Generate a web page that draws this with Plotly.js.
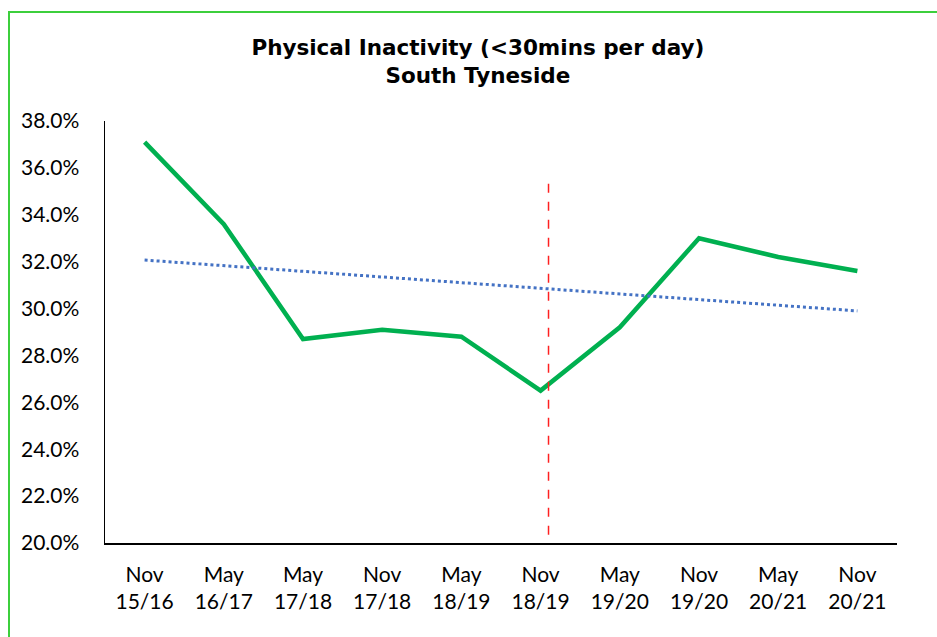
<!DOCTYPE html>
<html>
<head>
<meta charset="utf-8">
<script src="https://cdn.plot.ly/plotly-3.0.1.min.js"></script>
<style>
  html, body { margin: 0; padding: 0; background: #ffffff; }
  #wrap { position: relative; width: 937px; height: 637px; overflow: hidden; }
  #chart { position: absolute; left: 0; top: 0; width: 937px; height: 637px; }
  /* green frame around the chart (top and left edges visible) */
  #frame { position: absolute; left: 8px; top: 11px; width: 940px; height: 640px;
           border-top: 2px solid #3ccf3c; border-left: 2px solid #3ccf3c;
           pointer-events: none; }
</style>
</head>
<body>
<div id="wrap">
  <div id="chart"></div>
  <div id="frame"></div>
</div>
<script>
// Survey periods (two-line tick labels)
const periods = [
  "Nov<br>15/16", "May<br>16/17", "May<br>17/18", "Nov<br>17/18", "May<br>18/19",
  "Nov<br>18/19", "May<br>19/20", "Nov<br>19/20", "May<br>20/21", "Nov<br>20/21"
];
// Share of adults active for less than 30 minutes a day (%)
const inactivity = [37.1, 33.6, 28.7, 29.1, 28.8, 26.5, 29.2, 33.0, 32.2, 31.6];
// Linear trend: values at the first and last period
const trendEnds = [32.07, 29.9];
// Vertical marker just after Nov 18/19, and its vertical extent (%)
const markerPos = 5.1;
const markerSpan = [20.35, 35.4];
// Y axis ticks
const yTicks = [20, 22, 24, 26, 28, 30, 32, 34, 36, 38];
const yTickText = yTicks.map(v => v.toFixed(1) + "%");

const idx = periods.map((_, i) => i);
const font = "Lato, 'Open Sans', sans-serif";
const titleFont = "'DejaVu Sans', Lato, sans-serif";

const traces = [
  {
    x: idx, y: inactivity, type: "scatter", mode: "lines",
    line: { color: "#00b050", width: 4.5 },
    hoverinfo: "x+y"
  },
  {
    x: [idx[0], idx[idx.length - 1]], y: trendEnds, type: "scatter", mode: "lines",
    line: { color: "#4472c4", width: 3, dash: "dot" },
    hoverinfo: "skip"
  },
  {
    x: [markerPos, markerPos], y: markerSpan, type: "scatter", mode: "lines",
    line: { color: "#ff2020", width: 1.5, dash: "dash" },
    hoverinfo: "skip"
  }
];

const layout = {
  width: 937, height: 637,
  margin: { l: 105, r: 40, t: 121, b: 94 },
  paper_bgcolor: "#ffffff", plot_bgcolor: "#ffffff",
  showlegend: false,
  font: { family: font, color: "#000000", size: 21 },
  title: {
    text: "<b>Physical Inactivity (<30mins per day)<br>South Tyneside</b>",
    font: { family: titleFont, size: 21.5, color: "#000000" },
    x: 0.51, xanchor: "center", y: 0.913, yanchor: "middle"
  },
  xaxis: {
    range: [-0.5, 9.5],
    tickmode: "array", tickvals: idx, ticktext: periods,
    showgrid: false, zeroline: false,
    showline: true, linecolor: "#000000", linewidth: 1.5,
    ticks: "", ticklabelstandoff: 12,
    tickfont: { family: font, size: 21, color: "#000000" },
    fixedrange: true
  },
  yaxis: {
    range: [20, 38],
    tickmode: "array", tickvals: yTicks, ticktext: yTickText,
    showgrid: false, zeroline: false,
    showline: true, linecolor: "#000000", linewidth: 1.5,
    ticks: "", ticklabelstandoff: 20,
    tickfont: { family: font, size: 21, color: "#000000" },
    fixedrange: true
  }
};

Plotly.newPlot("chart", traces, layout, { displayModeBar: false, staticPlot: true });
</script>
</body>
</html>
